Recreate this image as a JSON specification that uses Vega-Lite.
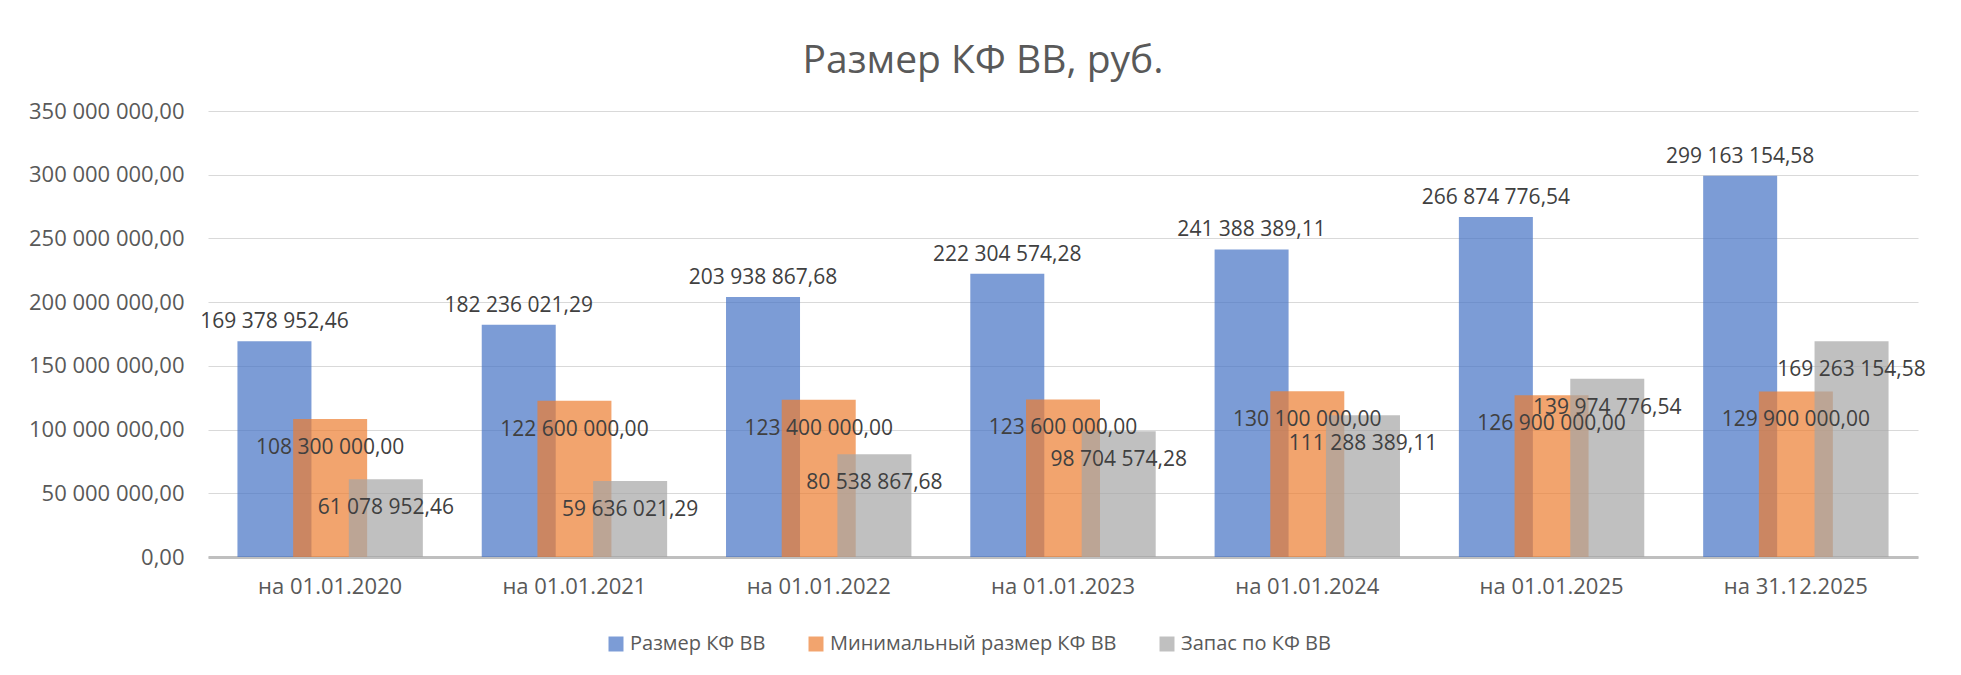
{
  "$schema": "https://vega.github.io/schema/vega-lite/v6.json",
  "width": 1710,
  "height": 446,
  "autosize": {"type": "none"},
  "padding": {"left": 208, "top": 111, "right": 43, "bottom": 118},
  "background": "white",
  "config": {
    "locale": {"number": {"decimal": ",", "thousands": " ", "grouping": [3], "currency": ["", ""]}},
    "view": {"stroke": null},
    "font": "Open Sans"
  },
  "title": {"text": "Размер КФ ВВ, руб.", "fontSize": 39, "fontWeight": "normal", "color": "#595959", "anchor": "middle", "dx": -80, "offset": 19},
  "data": {"values": [
    {"period": "на 01.01.2020", "series": "Размер КФ ВВ", "value": 169378952.46},
    {"period": "на 01.01.2021", "series": "Размер КФ ВВ", "value": 182236021.29},
    {"period": "на 01.01.2022", "series": "Размер КФ ВВ", "value": 203938867.68},
    {"period": "на 01.01.2023", "series": "Размер КФ ВВ", "value": 222304574.28},
    {"period": "на 01.01.2024", "series": "Размер КФ ВВ", "value": 241388389.11},
    {"period": "на 01.01.2025", "series": "Размер КФ ВВ", "value": 266874776.54},
    {"period": "на 31.12.2025", "series": "Размер КФ ВВ", "value": 299163154.58},
    {"period": "на 01.01.2020", "series": "Минимальный размер КФ ВВ", "value": 108300000},
    {"period": "на 01.01.2021", "series": "Минимальный размер КФ ВВ", "value": 122600000},
    {"period": "на 01.01.2022", "series": "Минимальный размер КФ ВВ", "value": 123400000},
    {"period": "на 01.01.2023", "series": "Минимальный размер КФ ВВ", "value": 123600000},
    {"period": "на 01.01.2024", "series": "Минимальный размер КФ ВВ", "value": 130100000},
    {"period": "на 01.01.2025", "series": "Минимальный размер КФ ВВ", "value": 126900000},
    {"period": "на 31.12.2025", "series": "Минимальный размер КФ ВВ", "value": 129900000},
    {"period": "на 01.01.2020", "series": "Запас по КФ ВВ", "value": 61078952.46},
    {"period": "на 01.01.2021", "series": "Запас по КФ ВВ", "value": 59636021.29},
    {"period": "на 01.01.2022", "series": "Запас по КФ ВВ", "value": 80538867.68},
    {"period": "на 01.01.2023", "series": "Запас по КФ ВВ", "value": 98704574.28},
    {"period": "на 01.01.2024", "series": "Запас по КФ ВВ", "value": 111288389.11},
    {"period": "на 01.01.2025", "series": "Запас по КФ ВВ", "value": 139974776.54},
    {"period": "на 31.12.2025", "series": "Запас по КФ ВВ", "value": 169263154.58}
  ]},
  "encoding": {
    "x": {
      "field": "period", "type": "nominal", "sort": null,
      "scale": {"paddingInner": 0, "paddingOuter": 0},
      "axis": {"title": null, "labelAngle": 0, "ticks": false, "domainColor": "#BFBFBF", "domainWidth": 3, "labelPadding": 19, "labelFontSize": 22, "labelColor": "#595959", "grid": false}
    },
    "xOffset": {
      "field": "series", "type": "nominal",
      "sort": ["Размер КФ ВВ", "Минимальный размер КФ ВВ", "Запас по КФ ВВ"],
      "scale": {"paddingInner": 0, "paddingOuter": 0.693}
    },
    "y": {
      "field": "value", "type": "quantitative",
      "scale": {"domain": [0, 350000000]},
      "axis": {"title": null, "values": [0, 50000000, 100000000, 150000000, 200000000, 250000000, 300000000, 350000000], "format": ",.2f", "domain": false, "ticks": false, "labelPadding": 24, "labelFontSize": 22, "labelColor": "#595959", "gridColor": "#D9D9D9", "gridWidth": 1}
    }
  },
  "layer": [
    {
      "mark": {"type": "bar", "width": 74, "opacity": 0.7},
      "encoding": {
        "color": {
          "field": "series", "type": "nominal",
          "sort": ["Размер КФ ВВ", "Минимальный размер КФ ВВ", "Запас по КФ ВВ"],
          "scale": {"domain": ["Размер КФ ВВ", "Минимальный размер КФ ВВ", "Запас по КФ ВВ"], "range": ["#4472C4", "#ED7D31", "#A5A5A5"]},
          "legend": {"title": null, "orient": "none", "direction": "horizontal", "legendX": 398, "legendY": 523, "symbolType": "square", "symbolSize": 225, "symbolOpacity": 0.7, "symbolStrokeWidth": 0, "labelFontSize": 20, "labelColor": "#595959", "labelLimit": 0, "columnPadding": 40, "labelOffset": 4}
        }
      }
    },
    {
      "transform": [{"filter": "datum.series === 'Размер КФ ВВ'"}],
      "mark": {"type": "text", "baseline": "alphabetic", "dy": -13, "fontSize": 21, "color": "#404040"},
      "encoding": {"text": {"field": "value", "type": "quantitative", "format": ",.2f"}}
    },
    {
      "transform": [{"filter": "datum.series !== 'Размер КФ ВВ'"}],
      "mark": {"type": "text", "baseline": "alphabetic", "dy": 35, "fontSize": 21, "color": "#404040"},
      "encoding": {"text": {"field": "value", "type": "quantitative", "format": ",.2f"}}
    }
  ]
}
